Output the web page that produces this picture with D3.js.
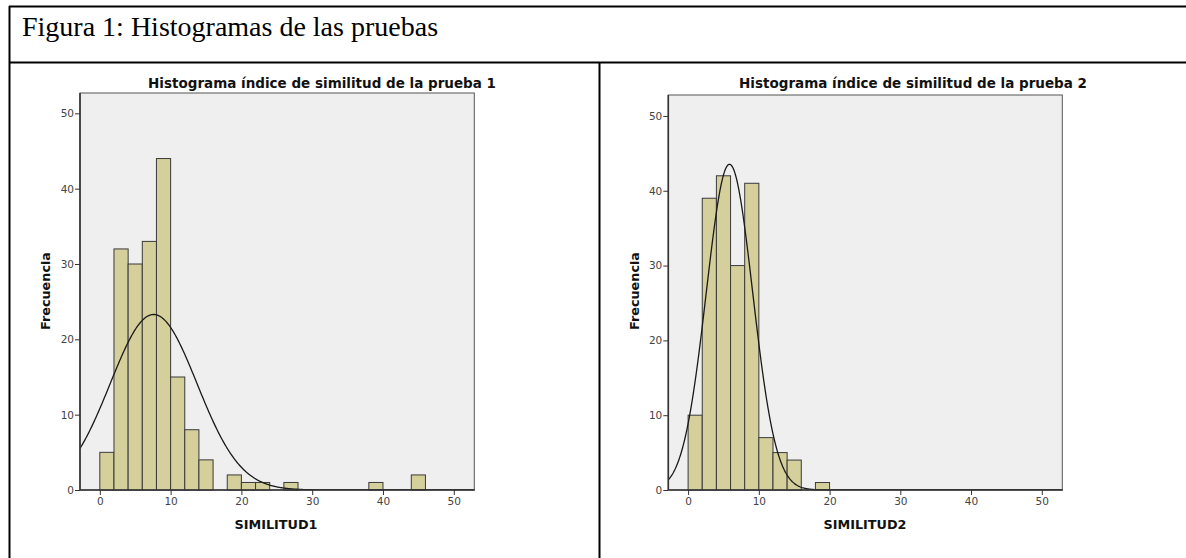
<!DOCTYPE html>
<html>
<head>
<meta charset="utf-8">
<script src="https://cdn.jsdelivr.net/npm/d3@7"></script>
<style>
  body { margin: 0; background: #fff; }
</style>
</head>
<body>
<script>
// histogram data (bins of width 2)
var binStarts1 = [0,2,4,6,8,10,12,14,16,18,20,22,24,26,28,30,32,34,36,38,40,42,44];
var counts1    = [5,32,30,33,44,15,8,4,0,2,1,1,0,1,0,0,0,0,0,1,0,0,2];
var binStarts2 = [0,2,4,6,8,10,12,14,16,18];
var counts2    = [10,39,42,30,41,7,5,4,0,1];
var binWidth = 2;
var xTicks = [0,10,20,30,40,50];
var yTicks = [0,10,20,30,40,50];
// normal curve parameters (fitted by the original)
var nObs = 179;
var mean1 = 7.6, sd1 = 6.13;
var mean2 = 5.85, sd2 = 3.28;

var svg = d3.select("body").append("svg").attr("width", 1186).attr("height", 558);

// outer table lines
svg.append("line").attr("x1", 9).attr("y1", 6.5).attr("x2", 1186).attr("y2", 6.5).attr("stroke", "#000").attr("stroke-width", 2);
svg.append("line").attr("x1", 9.5).attr("y1", 6).attr("x2", 9.5).attr("y2", 558).attr("stroke", "#000").attr("stroke-width", 2);
svg.append("line").attr("x1", 9).attr("y1", 62.5).attr("x2", 1186).attr("y2", 62.5).attr("stroke", "#000").attr("stroke-width", 2);
svg.append("line").attr("x1", 599.5).attr("y1", 62).attr("x2", 599.5).attr("y2", 558).attr("stroke", "#000").attr("stroke-width", 2);

svg.append("text")
      .text("Figura 1: Histogramas de las pruebas")
      .attr("x", 22).attr("y", 36)
      .attr("font-family", "Liberation Serif, Times New Roman, serif")
      .attr("font-size", 28)
      .attr("fill", "#000");

function panel(cfg) {
      var g = svg.append("g");
      var x = d3.scaleLinear().domain([-2.8, 52.9]).range([cfg.left, cfg.right]);
      var y = d3.scaleLinear().domain([0, cfg.ymax]).range([490, cfg.top]);

      g.append("rect")
            .attr("x", cfg.left).attr("y", cfg.top)
            .attr("width", cfg.right - cfg.left).attr("height", 490 - cfg.top)
            .attr("fill", "#efefef").attr("stroke", "#555").attr("stroke-width", 1);

      var clipId = "clip" + cfg.id;
      svg.append("clipPath").attr("id", clipId).append("rect")
            .attr("x", cfg.left).attr("y", cfg.top)
            .attr("width", cfg.right - cfg.left).attr("height", 490 - cfg.top);

      g.selectAll("rect.bar")
            .data(cfg.starts.map(function(s, i){ return [s, cfg.counts[i]]; }).filter(function(d){ return d[1] > 0; }))
            .enter().append("rect")
            .attr("class", "bar")
            .attr("x", function(d){ return x(d[0]); })
            .attr("y", function(d){ return y(d[1]); })
            .attr("width", function(d){ return x(d[0] + binWidth) - x(d[0]); })
            .attr("height", function(d){ return 490 - y(d[1]); })
            .attr("fill", "#d4cf9b")
            .attr("stroke", "#3a3a3a")
            .attr("stroke-width", 1);

      var pts = d3.range(-2.8, 52.9, 0.1).map(function(v){
            var z = (v - cfg.mean) / cfg.sd;
            return [v, nObs * binWidth * Math.exp(-0.5 * z * z) / (cfg.sd * Math.sqrt(2 * Math.PI))];
      });
      g.append("path")
            .datum(pts)
            .attr("clip-path", "url(#" + clipId + ")")
            .attr("d", d3.line().x(function(d){ return x(d[0]); }).y(function(d){ return y(d[1]); }))
            .attr("fill", "none")
            .attr("stroke", "#1a1a1a")
            .attr("stroke-width", 1.3);

      var xAxis = g.append("g").attr("transform", "translate(0,490)")
            .call(d3.axisBottom(x).tickValues(xTicks).tickSize(5).tickPadding(3));
      xAxis.select(".domain").remove();
      g.append("line").attr("x1", cfg.left).attr("x2", cfg.right + 0.5).attr("y1", 490).attr("y2", 490)
            .attr("stroke", "#333").attr("stroke-width", 1.6);

      var yAxis = g.append("g").attr("transform", "translate(" + cfg.left + ",0)")
            .call(d3.axisLeft(y).tickValues(yTicks).tickSize(5).tickPadding(1));
      yAxis.select(".domain").remove();
      g.append("line").attr("x1", cfg.left).attr("x2", cfg.left).attr("y1", cfg.top).attr("y2", 490)
            .attr("stroke", "#333").attr("stroke-width", 1.6);

      g.selectAll(".tick line").attr("stroke", "#333");
      g.selectAll(".tick text")
            .attr("font-family", "DejaVu Sans, sans-serif")
            .attr("font-size", 10.5)
            .attr("fill", "#444");

      g.append("text")
            .text(cfg.title)
            .attr("x", cfg.titleX).attr("y", 88)
            .attr("text-anchor", "middle")
            .attr("font-family", "DejaVu Sans, sans-serif")
            .attr("font-weight", "bold")
            .attr("font-size", 13.5)
            .attr("fill", "#111");

      g.append("text")
            .text(cfg.xLabel)
            .attr("x", cfg.xLabelX).attr("y", 529)
            .attr("text-anchor", "middle")
            .attr("font-family", "DejaVu Sans, sans-serif")
            .attr("font-weight", "bold")
            .attr("font-size", 12.8)
            .attr("fill", "#111");

      g.append("text")
            .text("Frecuencia")
            .attr("transform", "translate(" + cfg.yLabelX + ",291) rotate(-90)")
            .attr("text-anchor", "middle")
            .attr("font-family", "DejaVu Sans, sans-serif")
            .attr("font-weight", "bold")
            .attr("font-size", 12.8)
            .attr("fill", "#111");
}

panel({ id: 1, left: 80, right: 474.3, top: 93, ymax: 52.7,
        starts: binStarts1, counts: counts1, mean: mean1, sd: sd1,
        title: "Histograma índice de similitud de la prueba 1", titleX: 322,
        xLabel: "SIMILITUD1", xLabelX: 276, yLabelX: 50 });

panel({ id: 2, left: 668.3, right: 1062.3, top: 95, ymax: 52.8,
        starts: binStarts2, counts: counts2, mean: mean2, sd: sd2,
        title: "Histograma índice de similitud de la prueba 2", titleX: 913,
        xLabel: "SIMILITUD2", xLabelX: 865, yLabelX: 639 });
</script>
</body>
</html>
